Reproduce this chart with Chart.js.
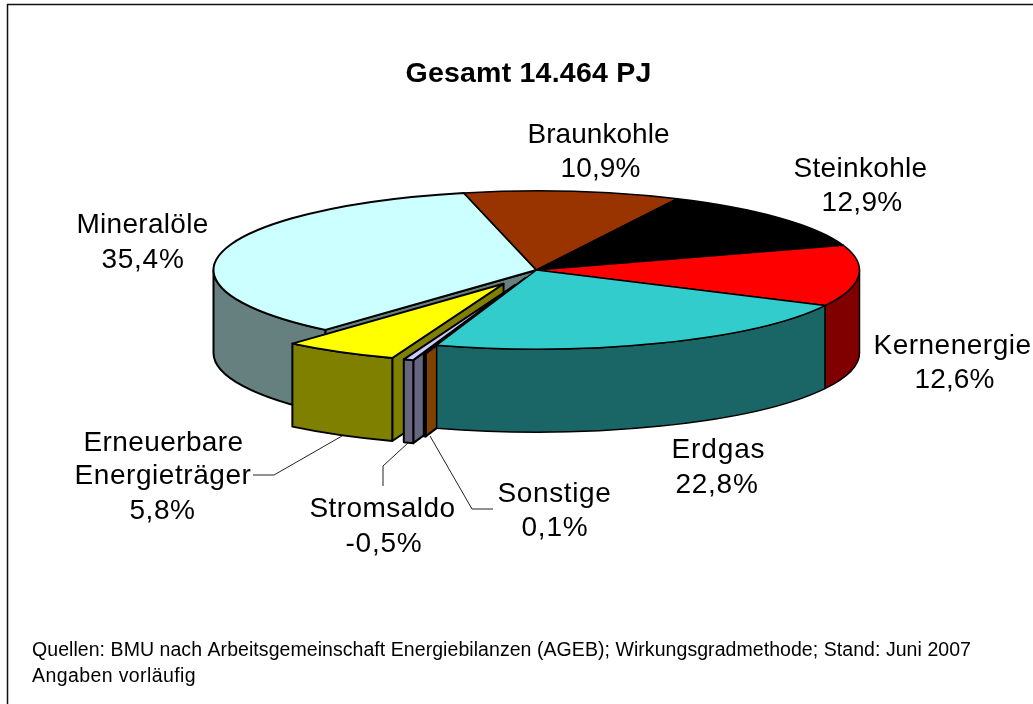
<!DOCTYPE html>
<html><head><meta charset="utf-8">
<style>html,body{margin:0;padding:0;background:#fff}canvas{display:block}</style>
<script src="https://cdn.jsdelivr.net/npm/chart.js@4"></script>
</head><body>
<canvas id="c" width="1033" height="704"></canvas>
<script>
const categories = ["Braunkohle","Steinkohle","Kernenergie","Erdgas","Sonstige","Stromsaldo","Erneuerbare Energieträger","Mineralöle"];
const shares = [10.9,12.9,12.6,22.8,0.1,-0.5,5.8,35.4];
const topColors = ["#993300","#000000","#FF0000","#33CCCC","#FF8000","#CCCCFF","#FFFF00","#CCFFFF"];
const wallColors = ["#4D1A00","#000000","#800000","#1A6666","#804000","#666680","#808000","#668080"];
const explodePx = [0,0,0,0,35,65,65,0];
const paintOrder = [7,0,1,2,6,5,4,3];
const titleText = {t:"Gesamt 14.464 PJ",x:407,w:243,y:82};
const footerLines = [
 {t:"Quellen: BMU nach Arbeitsgemeinschaft Energiebilanzen (AGEB); Wirkungsgradmethode; Stand: Juni 2007",x:33,w:937,y:656},
 {t:"Angaben vorläufig",x:33,w:162,y:682}
];
const sliceLabels = [
 {t:"Braunkohle",x:529,w:139,y:143},{t:"10,9%",x:562,w:77,y:177},
 {t:"Steinkohle",x:795,w:131,y:177},{t:"12,9%",x:823,w:78,y:211},
 {t:"Mineralöle",x:78,w:129,y:233},{t:"35,4%",x:103,w:80,y:268},
 {t:"Kernenergie",x:875,w:155,y:354},{t:"12,6%",x:916,w:77,y:388},
 {t:"Erdgas",x:673,w:91,y:458},{t:"22,8%",x:677,w:80,y:493},
 {t:"Sonstige",x:499,w:111,y:502},{t:"0,1%",x:523,w:64,y:536},
 {t:"Stromsaldo",x:311,w:143,y:517},{t:"-0,5%",x:347,w:74,y:552},
 {t:"Erneuerbare",x:85,w:157,y:451},{t:"Energieträger",x:76,w:174,y:484},{t:"5,8%",x:131,w:63,y:519}
];
const leaders = [
 [[253,475],[274,475],[342,436]],
 [[383,486],[383,466],[408,443]],
 [[493,509],[472,509],[430,436]]
];
const view = {cx:536.5, cy:270, k:0.245, depth:83, radius:323};

function edgePt(arc,a,ex,ey){
  return [view.cx+ex+Math.cos(a)*arc.outerRadius, view.cy+view.k*(ey+Math.sin(a)*arc.outerRadius)];
}
function offsetOf(arc,i){
  const m=(arc.startAngle+arc.endAngle)/2;
  return [Math.cos(m)*explodePx[i], Math.sin(m)*explodePx[i]];
}
function strokeFill(ctx,fill,lw){
  ctx.fillStyle=fill; ctx.fill();
  ctx.strokeStyle="#000"; ctx.lineWidth=lw; ctx.lineJoin="round"; ctx.stroke();
}
function fitText(ctx,l,bearing){
  ctx.letterSpacing="0px";
  const adv=ctx.measureText(l.t).width;
  const sp=(l.w+2*bearing-adv)/l.t.length;
  ctx.letterSpacing=sp.toFixed(3)+"px";
  ctx.fillText(l.t,l.x-bearing,l.y);
}
const pie3d = {
  id:"pie3d",
  beforeDatasetsDraw(chart){
    const ctx=chart.ctx, arcs=chart.getDatasetMeta(0).data, n=arcs.length;
    const {cx,cy,k,depth}=view;
    paintOrder.forEach(i=>{
      const arc=arcs[i];
      const [ex,ey]=offsetOf(arc,i);
      const ccx=cx+ex, ccy=cy+k*ey;
      const lw=(explodePx[i]||explodePx[(i+n-1)%n])?2:1.5;
      const a=arc.startAngle, b=arc.endAngle;
      const prev=(i+n-1)%n, next=(i+1)%n;
      const faces=[];
      if(Math.cos(a)<0 && (explodePx[i]||explodePx[prev])) faces.push(a);
      if(Math.cos(b)>0 && (explodePx[i]||explodePx[next])) faces.push(b);
      faces.forEach(t=>{
        const p=edgePt(arc,t,ex,ey);
        ctx.beginPath();
        ctx.moveTo(ccx,ccy); ctx.lineTo(p[0],p[1]); ctx.lineTo(p[0],p[1]+depth); ctx.lineTo(ccx,ccy+depth); ctx.closePath();
        strokeFill(ctx,wallColors[i],lw);
      });
      const s=Math.max(a,0), e=Math.min(b,Math.PI);
      if(e>s){
        ctx.beginPath();
        ctx.ellipse(ccx,ccy,arc.outerRadius,arc.outerRadius*k,0,s,e);
        ctx.ellipse(ccx,ccy+depth,arc.outerRadius,arc.outerRadius*k,0,e,s,true);
        ctx.closePath();
        strokeFill(ctx,wallColors[i],lw);
      }
      ctx.save();
      ctx.translate(ccx,ccy); ctx.scale(1,k); ctx.translate(-arc.x,-arc.y);
      arc.draw(ctx);
      ctx.restore();
      ctx.beginPath();
      ctx.moveTo(ccx,ccy);
      ctx.ellipse(ccx,ccy,arc.outerRadius,arc.outerRadius*k,0,a,b);
      ctx.closePath();
      ctx.strokeStyle="#000"; ctx.lineWidth=lw; ctx.lineJoin="round"; ctx.stroke();
    });
    return false;
  },
  afterDraw(chart){
    const ctx=chart.ctx;
    ctx.save();
    ctx.strokeStyle="#111"; ctx.lineWidth=1.5;
    ctx.beginPath(); ctx.moveTo(7.5,704); ctx.lineTo(7.5,4.5); ctx.lineTo(1033,4.5); ctx.stroke();
    ctx.strokeStyle="#222"; ctx.lineWidth=1;
    leaders.forEach(l=>{ctx.beginPath();l.forEach((p,j)=>j?ctx.lineTo(p[0],p[1]):ctx.moveTo(p[0],p[1]));ctx.stroke();});
    ctx.fillStyle="#000"; ctx.textBaseline="alphabetic"; ctx.textAlign="left";
    ctx.font="bold 28.5px 'Liberation Sans'";
    fitText(ctx,titleText,1.5);
    ctx.font="28px 'Liberation Sans'";
    sliceLabels.forEach(l=>fitText(ctx,l,1.5));
    ctx.font="19.5px 'Liberation Sans'";
    footerLines.forEach(l=>fitText(ctx,l,1));
    ctx.restore();
  }
};
new Chart(document.getElementById("c"),{
  type:"pie",
  data:{labels:categories,datasets:[{data:shares,backgroundColor:topColors,borderWidth:0}]},
  options:{
    responsive:false,animation:false,rotation:-13,radius:view.radius,
    layout:{padding:{left:40}},
    plugins:{legend:{display:false},tooltip:{enabled:false},title:{display:false}}
  },
  plugins:[pie3d]
});
</script>
</body></html>
